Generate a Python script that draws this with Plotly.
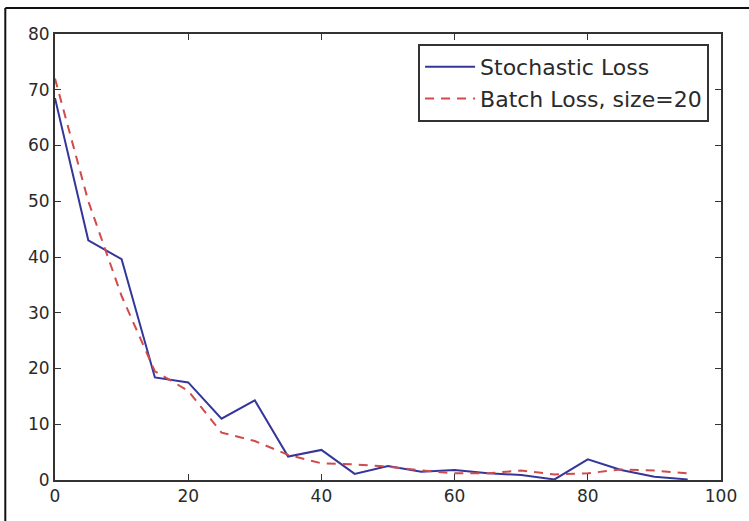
import plotly.graph_objects as go

epochs = [0, 5, 10, 15, 20, 25, 30, 35, 40, 45, 50, 55, 60, 65, 70, 75, 80, 85, 90, 95]
stochastic_loss = [68.5, 43.0, 39.6, 18.4, 17.5, 11.0, 14.3, 4.2, 5.4, 1.1, 2.5, 1.5, 1.8, 1.2, 0.9, 0.1, 3.7, 1.8, 0.6, 0.1]
batch_loss = [72.0, 50.0, 33.0, 19.5, 16.0, 8.5, 7.0, 4.5, 3.0, 2.8, 2.4, 1.7, 1.2, 1.2, 1.7, 1.0, 1.2, 1.9, 1.7, 1.2]

x_ticks = [0, 20, 40, 60, 80, 100]
y_ticks = [0, 10, 20, 30, 40, 50, 60, 70, 80]

fig = go.Figure()
fig.add_trace(go.Scatter(
    x=epochs, y=stochastic_loss, mode="lines", name="Stochastic Loss",
    line=dict(color="#34369a", width=2),
))
fig.add_trace(go.Scatter(
    x=epochs, y=batch_loss, mode="lines", name="Batch Loss, size=20",
    line=dict(color="#d24a4a", width=2, dash="9px,7px"),
))

axis_common = dict(
    showgrid=False, zeroline=False, showline=True, mirror="ticks",
    linecolor="#333333", linewidth=2, ticks="inside", ticklen=6,
    tickcolor="#333333", tickwidth=1,
    tickfont=dict(family="DejaVu Sans", size=17, color="#2a2a2a"),
)

fig.update_xaxes(range=[0, 100], tickvals=x_ticks, **axis_common)
fig.update_yaxes(range=[0, 80], tickvals=y_ticks, **axis_common)

L, T, R, B = 55, 34, 725, 480
pw, ph = R - L, B - T

fig.update_layout(
    width=749, height=521,
    margin=dict(l=L, r=749 - R, t=T, b=521 - B),
    paper_bgcolor="white", plot_bgcolor="white",
    font=dict(family="DejaVu Sans", size=17, color="#2a2a2a"),
    legend=dict(
        x=(713 - L) / pw, y=(B - 44) / ph, xanchor="right", yanchor="top",
        bgcolor="white", bordercolor="#333333", borderwidth=2,
        font=dict(family="DejaVu Sans", size=22, color="#2a2a2a"),
        tracegroupgap=0, itemwidth=50,
    ),
    shapes=[
        dict(type="line", xref="paper", yref="paper",
             x0=(5 - L) / pw, x1=1.2, y0=(B - 8) / ph, y1=(B - 8) / ph,
             line=dict(color="#111111", width=2)),
        dict(type="line", xref="paper", yref="paper",
             x0=(5 - L) / pw, x1=(5 - L) / pw, y0=-0.2, y1=(B - 8) / ph,
             line=dict(color="#111111", width=2)),
    ],
)

fig.write_html("out.html", config={"displayModeBar": False},
               post_script="document.body.style.margin='0';document.body.style.overflow='hidden';")
